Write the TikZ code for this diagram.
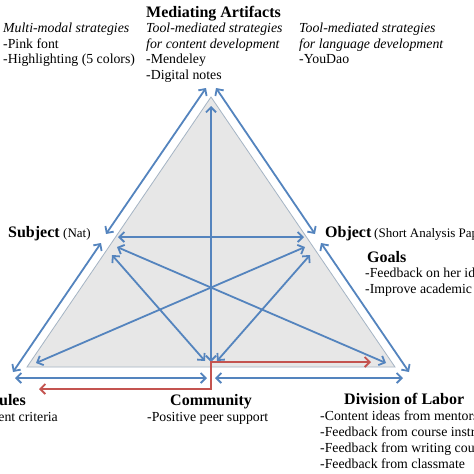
\documentclass[tikz,border=0pt]{standalone}
\usepackage{fontspec}
\setmainfont{Liberation Serif}
\usetikzlibrary{arrows.meta}
\definecolor{arblue}{RGB}{84,132,190}
\definecolor{arred}{RGB}{196,84,80}
\definecolor{trifill}{RGB}{231,231,231}
\definecolor{triedge}{RGB}{165,180,196}
\tikzset{
  hd/.style={font=\fontsize{16}{18}\selectfont\bfseries, inner sep=0pt, anchor=base west},
  tx/.style={font=\fontsize{13.8}{16}\selectfont, inner sep=0pt, anchor=base west},
  itx/.style={font=\fontsize{13.8}{16}\selectfont\itshape, inner sep=0pt, anchor=base west},
  smx/.style={font=\fontsize{13}{15}\selectfont, inner sep=0pt, anchor=base west},
  barb/.tip={Straight Barb[length=5pt,width=10pt]},
  link/.style={draw=arblue, line width=1.8pt, line cap=round, barb-barb},
  redlink/.style={draw=arred, line width=1.8pt, barb-barb},
}
\begin{document}
\begin{tikzpicture}[x=1pt,y=-1pt]
\path[use as bounding box] (0,0) rectangle (474,474);
\clip (0,0) rectangle (474,474);
\fill[white] (0,0) rectangle (474,474);

% triangle
\coordinate (A) at (211,97);
\coordinate (L) at (27,367);
\coordinate (R) at (395,367);
\filldraw[fill=trifill, draw=triedge, line width=0.8pt] (A) -- (L) -- (R) -- cycle;

% outer edge arrows
\coordinate (mL) at (206,88);
\coordinate (mR) at (216,88);
\coordinate (sU) at (106,234);
\coordinate (sD) at (101,243);
\coordinate (oU) at (315,234);
\coordinate (oD) at (321,243);
\coordinate (rlB) at (13,372);
\coordinate (dvB) at (409,372);
\coordinate (rlH) at (15,378);
\coordinate (cmL) at (207,378);
\coordinate (cmR) at (215,378);
\coordinate (dvH) at (403,378);
\draw[link] (sU) -- (mL);
\draw[link] (sD) -- (rlB);
\draw[link] (oU) -- (mR);
\draw[link] (oD) -- (dvB);
\draw[link] (rlH) -- (cmL);
\draw[link] (cmR) -- (dvH);

% inner arrows
\coordinate (sH) at (118,237);
\coordinate (oH) at (304,237);
\coordinate (sX) at (117,247);
\coordinate (sC) at (112,255);
\coordinate (oX) at (305,247);
\coordinate (oC) at (310,255);
\coordinate (dvI) at (386,363);
\coordinate (rlI) at (36,363);
\coordinate (cmIL) at (205,361);
\coordinate (cmIR) at (217,361);
\coordinate (cmV) at (211,362);
\coordinate (mV) at (211,106);
\draw[link] (sH) -- (oH);
\draw[link] (sX) -- (dvI);
\draw[link] (oX) -- (rlI);
\draw[link] (sC) -- (cmIL);
\draw[link] (oC) -- (cmIR);
\draw[link] (cmV) -- (mV);

% red arrow
\coordinate (rdL) at (39,389);
\coordinate (rdR) at (371,362);
\draw[redlink] (rdL) -- (211,389) -- (211,362) -- (rdR);

% texts
\node[hd] (ma) at (146,17) {Mediating Artifacts};
\node[itx] (c1a) at (3,32.5) {Multi-modal strategies};
\node[tx] (c1b) at (3,48) {-Pink font};
\node[tx] (c1c) at (3,63.5) {-Highlighting (5 colors)};
\node[itx] (c2a) at (146,32.5) {Tool-mediated strategies};
\node[itx] (c2b) at (146,48) {for content development};
\node[tx] (c2c) at (146,63.5) {-Mendeley};
\node[tx] (c2d) at (146,79) {-Digital notes};
\node[itx] (c3a) at (299,32.5) {Tool-mediated strategies};
\node[itx] (c3b) at (299,48) {for language development};
\node[tx] (c3c) at (299,63.5) {-YouDao};

\node[hd] (subj) at (8,237) {Subject};
\node[smx] (nat) at (63,237) {(Nat)};
\node[hd] (obj) at (325,237) {Object};
\node[smx] (sap) at (374,237) {(Short Analysis Paper)};
\node[hd] (goals) at (367,262) {Goals};
\node[tx] (g1) at (365,277.5) {-Feedback on her ideas};
\node[tx] (g2) at (365,293.5) {-Improve academic writing};

\node[hd, anchor=base east] (rules) at (26,405) {Rules};
\node[tx, anchor=base east] (r1) at (58,421) {-Assessment criteria};
\node[hd] (comm) at (170,405) {Community};
\node[tx] (cm1) at (147,421) {-Positive peer support};
\node[hd] (dol) at (344,404) {Division of Labor};
\node[tx] (d1) at (320,420) {-Content ideas from mentors};
\node[tx] (d2) at (320,436) {-Feedback from course instructor};
\node[tx] (d3) at (320,452) {-Feedback from writing counselor};
\node[tx] (d4) at (320,468) {-Feedback from classmate};
\end{tikzpicture}
\end{document}
